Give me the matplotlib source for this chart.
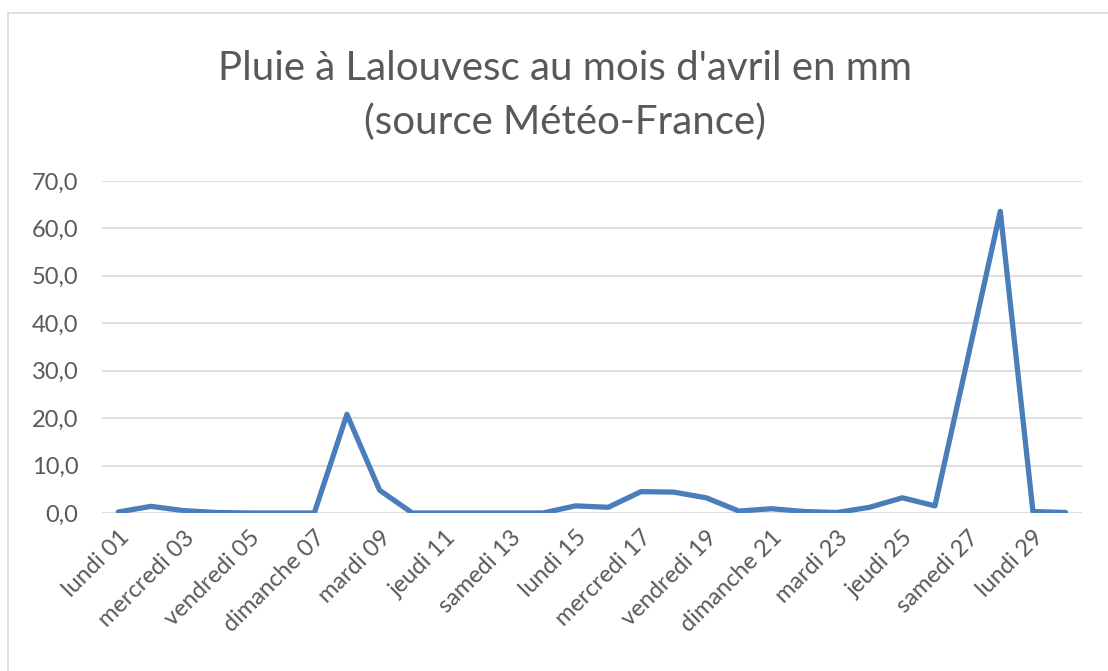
import matplotlib.pyplot as plt
from matplotlib.patches import Rectangle
from matplotlib.ticker import FuncFormatter

# jours d'avril et pluie en mm
jours = ['lundi', 'mardi', 'mercredi', 'jeudi', 'vendredi', 'samedi', 'dimanche']
days = list(range(1, 31))
day_labels = ['%s %02d' % (jours[(d - 1) % 7], d) for d in days]
pluie = [0.2, 1.4, 0.5, 0.1, 0.0, 0.0, 0.0, 20.8, 4.8, 0.0,
         0.0, 0.0, 0.0, 0.0, 1.5, 1.2, 4.5, 4.4, 3.2, 0.4,
         0.9, 0.3, 0.1, 1.2, 3.2, 1.5, 32.5, 63.6, 0.3, 0.1]

plt.rcParams['font.family'] = ['Lato', 'DejaVu Sans']

fig = plt.figure(figsize=(11.08, 6.71), dpi=100)
ax = fig.add_axes([0.092, 0.2355, 0.8845, 0.4948])

# cadre gris autour du graphique
fig.patches.append(Rectangle((0.007, -0.01), 1.0, 0.99, transform=fig.transFigure,
                             fill=False, edgecolor='#d9d9d9', linewidth=1.2))

ax.plot(days, pluie, color='#4a7ebb', linewidth=3.8, solid_joinstyle='round',
        solid_capstyle='round', zorder=3)

ax.set_xlim(0.5, 30.5)
ax.set_ylim(0, 70)
ax.set_yticks(range(0, 71, 10))
ax.yaxis.set_major_formatter(FuncFormatter(lambda v, p: ('%.1f' % v).replace('.', ',')))
ax.set_xticks(days[::2])
ax.set_xticklabels(day_labels[::2], rotation=45, ha='right', rotation_mode='anchor')

ax.grid(axis='y', color='#d9d9d9', linewidth=1.2, zorder=0)
for s in ax.spines.values():
    s.set_visible(False)
ax.tick_params(axis='both', length=0, labelsize=17, labelcolor='#595959')
ax.tick_params(axis='y', pad=17)
ax.tick_params(axis='x', pad=10)

fig.text(0.51, 0.898, "Pluie à Lalouvesc au mois d'avril en mm", ha='center', va='center',
         fontsize=29, color='#595959')
fig.text(0.51, 0.818, "(source Météo-France)", ha='center', va='center',
         fontsize=29, color='#595959')

fig.savefig('out.png', dpi=100)
